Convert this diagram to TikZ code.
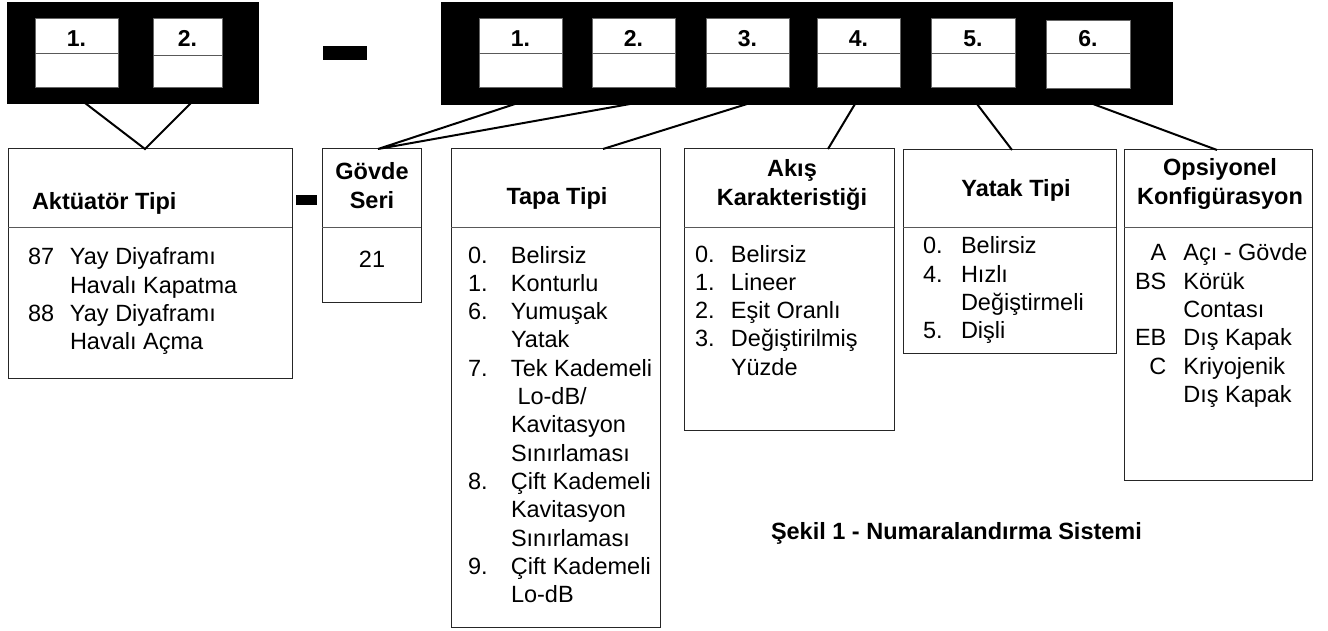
\documentclass[tikz,border=0pt]{standalone}
\usepackage{fontspec}
\setmainfont{Liberation Sans}
\usetikzlibrary{calc}
\newcommand\mybox[6]{\node[#6, minimum width={(#4-#2)*1pt}, minimum height={(#5-#3)*1pt}, anchor=north west] (#1) at (#2,#3) {};}
\begin{document}
\begin{tikzpicture}[x=1pt,y=-1pt,
  blk/.style={draw=black, fill=black, inner sep=0, outer sep=0},
  cell/.style={draw=black!60, fill=white, line width=1pt, inner sep=0, outer sep=0},
  frame/.style={draw=black!85, line width=1pt, inner sep=0, outer sep=0},
  div/.style={draw=black!65, line width=1pt},
  conn/.style={draw=black, line width=2pt},
  txt/.style={inner sep=0, outer sep=0, font=\fontsize{23.5pt}{28.3pt}\selectfont},
  hd/.style={txt, font=\fontsize{23.5pt}{28.3pt}\selectfont\bfseries, anchor=base},
  num/.style={inner sep=0, font=\fontsize{23pt}{27pt}\selectfont\bfseries, anchor=base},
  lst/.style={txt, anchor=base west}]
\useasboundingbox (0,0) rectangle (1328,631);
% code header boxes
\mybox{lbox}{7}{2}{258}{103}{blk}
\mybox{rbox}{441}{2}{1172}{104}{blk}
\mybox{dash}{323}{46}{366}{59}{blk}
\mybox{sdash}{296}{195}{316}{204}{blk}
\mybox{la}{35}{19}{118}{88}{cell}
\mybox{lb}{153}{19}{222}{88}{cell}
\mybox{ra}{479}{19}{562}{88}{cell}
\mybox{rb}{592}{19}{675}{88}{cell}
\mybox{rc}{706}{19}{789}{88}{cell}
\mybox{rd}{817}{19}{900}{88}{cell}
\mybox{re}{931}{19}{1015}{88}{cell}
\mybox{rf}{1046}{21}{1130}{89}{cell}
\foreach \c/\d in {la/35,lb/37,ra/35,rb/35,rc/35,rd/35,re/35,rf/33}{
  \draw[div] ($(\c.north west)+(0,\d)$) -- ($(\c.north east)+(0,\d)$);
}
\node[num] (nla) at ($(la.north)+(0,28)$) {1.};
\node[num] (nlb) at ($(lb.north)+(0,28)$) {2.};
\node[num] (nra) at ($(ra.north)+(0,28)$) {1.};
\node[num] (nrb) at ($(rb.north)+(0,28)$) {2.};
\node[num] (nrc) at ($(rc.north)+(0,28)$) {3.};
\node[num] (nrd) at ($(rd.north)+(0,28)$) {4.};
\node[num] (nre) at ($(re.north)+(0,28)$) {5.};
\node[num] (nrf) at ($(rf.north)+(0,26)$) {6.};
% description boxes
\mybox{akt}{8}{149}{292}{378}{frame}
\mybox{gov}{322}{149}{421}{302}{frame}
\mybox{tapa}{451}{149}{660}{627}{frame}
\mybox{akis}{684}{149}{894}{430}{frame}
\mybox{yat}{903}{150}{1116}{353}{frame}
\mybox{ops}{1124}{150}{1312}{480}{frame}
\draw[div] (8,228) -- (292,228);
\draw[div] (322,228) -- (421,228);
\draw[div] (451,228) -- (660,228);
\draw[div] (684,228) -- (894,228);
\draw[div] (903,228) -- (1116,228);
\draw[div] (1124,228) -- (1312,228);
% connectors
\draw[conn] ($(lbox.south west)+(78,0)$) -- ($(akt.north west)+(137,0)$) -- ($(lbox.south west)+(184,0)$);
\draw[conn] ($(rbox.south west)+(74,0)$) -- ($(gov.north west)+(56,0)$) -- ($(rbox.south west)+(189,0)$);
\draw[conn] ($(rbox.south west)+(306,0)$) -- ($(tapa.north west)+(152,0)$);
\draw[conn] ($(rbox.south west)+(414,0)$) -- ($(akis.north west)+(144,0)$);
\draw[conn] ($(rbox.south west)+(536,0)$) -- ($(yat.north west)+(109,0)$);
\draw[conn] ($(rbox.south west)+(652,0)$) -- ($(ops.north west)+(93,0)$);
% headings
\node[hd, anchor=base west] (hakt) at (32,210) {Aktüatör Tipi};
\node[hd] (hgov) at (372,180) {\begin{tabular}[t]{@{}c@{}}Gövde\\Seri\end{tabular}};
\node[hd] (htapa) at (557,205) {Tapa Tipi};
\node[hd] (hakis) at (792,177) {\begin{tabular}[t]{@{}c@{}}Akış\\Karakteristiği\end{tabular}};
\node[hd] (hyat) at (1016,197) {Yatak Tipi};
\node[hd] (hops) at (1220,176) {\begin{tabular}[t]{@{}c@{}}Opsiyonel\\Konfigürasyon\end{tabular}};
% lists
\node[lst] (lakt) at (28,265) {\begin{tabular}[t]{@{}p{42pt}@{}l@{}}
87 & Yay Diyaframı\\ & Havalı Kapatma\\ 88 & Yay Diyaframı\\ & Havalı Açma\end{tabular}};
\node[txt, anchor=base] (lgov) at (372,267) {21};
\node[lst] (ltapa) at (468,263) {\begin{tabular}[t]{@{}p{43pt}@{}l@{}}
0. & Belirsiz\\ 1. & Konturlu\\ 6. & Yumuşak\\ & Yatak\\ 7. & Tek Kademeli\\ & \hspace*{6.5pt}Lo-dB/\\ & Kavitasyon\\ & Sınırlaması\\ 8. & Çift Kademeli\\ & Kavitasyon\\ & Sınırlaması\\ 9. & Çift Kademeli\\ & Lo-dB\end{tabular}};
\node[lst] (lakis) at (695,262) {\begin{tabular}[t]{@{}p{36pt}@{}l@{}}
0. & Belirsiz\\ 1. & Lineer\\ 2. & Eşit Oranlı\\ 3. & Değiştirilmiş\\ & Yüzde\end{tabular}};
\node[lst] (lyat) at (923,254) {\begin{tabular}[t]{@{}p{38pt}@{}l@{}}
0. & Belirsiz\\ 4. & Hızlı\\ & Değiştirmeli\\ 5. & Dişli\end{tabular}};
\node[lst] (lops) at (1135,261) {\begin{tabular}[t]{@{}r@{\hspace{17pt}}l@{}}
A & Açı - Gövde\\ BS & Körük\\ & Contası\\ EB & Dış Kapak\\ C & Kriyojenik\\ & Dış Kapak\end{tabular}};
% caption
\node[hd, anchor=base west] (cap) at (771,539) {Şekil 1 - Numaralandırma Sistemi};
\end{tikzpicture}
\end{document}
